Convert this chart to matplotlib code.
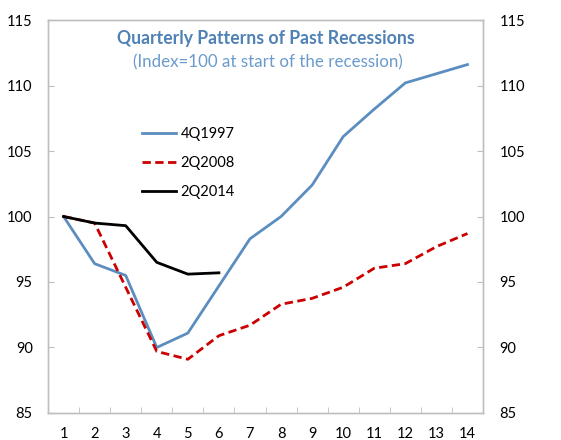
import matplotlib
matplotlib.use("Agg")
import matplotlib.pyplot as plt
import numpy as np

plt.rcParams['font.family'] = ['Lato', 'DejaVu Sans']

# quarters since start of recession
quarters = list(range(1, 15))
q4_1997 = [100.0, 96.4, 95.5, 90.0, 91.1, 94.7, 98.3, 100.0, 102.4, 106.1, 108.2, 110.2, 110.9, 111.6]
q2_2008 = [100.0, 99.5, 94.6, 89.7, 89.1, 90.9, 91.7, 93.3, 93.75, 94.6, 96.05, 96.4, 97.7, 98.7]
q2_2014 = [100.0, 99.5, 99.3, 96.5, 95.6, 95.7]
y_ticks = [85, 90, 95, 100, 105, 110, 115]

blue = "#5b8ec0"
red = "#cc0000"
grey = "#bfbfbf"

fig = plt.figure(figsize=(5.61, 4.40), dpi=100)
ax = fig.add_axes([0.0856, 0.0614, 0.7754, 0.8931])

ax.plot(quarters, q4_1997, color=blue, lw=2, label="4Q1997")
ax.plot(quarters, q2_2008, color=red, lw=2, ls=(0, (3, 1.6)), label="2Q2008")
ax.plot(quarters[:len(q2_2014)], q2_2014, color="black", lw=2, label="2Q2014")

ax.set_xlim(0.5, 14.5)
ax.set_ylim(85, 115)
ax.set_yticks(y_ticks)
ax.set_xticks(quarters)
ax.set_xticks(np.arange(1.5, 14.5, 1), minor=True)
ax.tick_params(axis="x", which="major", length=0, pad=10, labelsize=10.5)
ax.tick_params(axis="x", which="minor", direction="in", length=4, color=grey)
ax.tick_params(axis="y", direction="in", length=4, color=grey, labelsize=10.5, pad=11)

ax2 = ax.twinx()
ax2.set_ylim(85, 115)
ax2.set_yticks(y_ticks)
ax2.tick_params(axis="y", direction="in", length=4, color=grey, labelsize=10.5, pad=12)

for a in (ax, ax2):
    for s in a.spines.values():
        s.set_color(grey)
        s.set_linewidth(1)

ax.text(0.5, 0.953, "Quarterly Patterns of Past Recessions", transform=ax.transAxes,
        ha="center", va="center", fontsize=12.7, fontweight="bold", color="#4f81b4")
ax.text(0.505, 0.891, "(Index=100 at start of the recession)", transform=ax.transAxes,
        ha="center", va="center", fontsize=12.2, color="#6a9bcc")

leg = ax.legend(loc="upper left", bbox_to_anchor=(0.186, 0.762), frameon=False,
                fontsize=10.5, handlelength=2.35, handletextpad=0.3, labelspacing=1.05)

fig.savefig("out.png", dpi=100)
